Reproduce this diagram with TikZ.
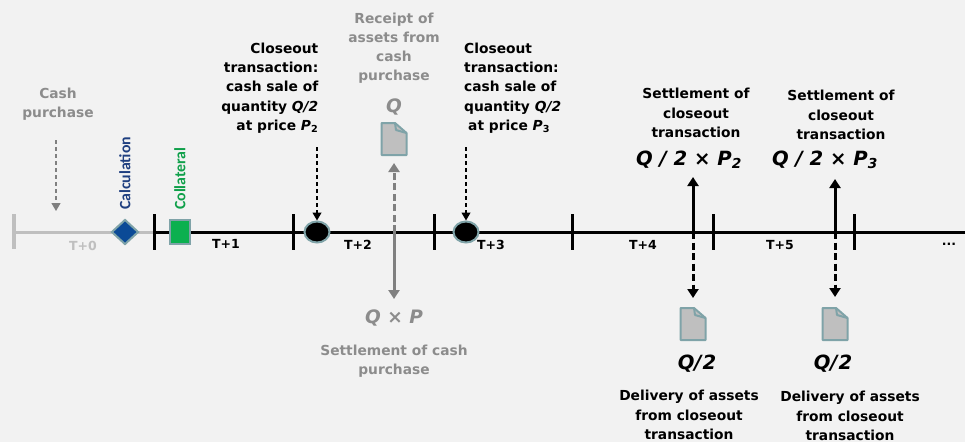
\documentclass[tikz,border=0pt]{standalone}
\usepackage{fontspec}
\setmainfont{DejaVu Sans}
\newfontfamily\carl{Carlito}
\usetikzlibrary{arrows.meta,shapes.geometric}
\definecolor{bgc}{HTML}{F2F2F2}
\definecolor{txtgray}{HTML}{8C8C8C}
\definecolor{midgray}{HTML}{808080}
\definecolor{t0gray}{HTML}{BFBFBF}
\definecolor{teal}{HTML}{7FA3A8}
\definecolor{navy}{HTML}{1F3F80}
\definecolor{dia}{HTML}{0B4A96}
\definecolor{grn}{HTML}{0FA04A}
\definecolor{grnbox}{HTML}{0BB04F}
\definecolor{docfill}{HTML}{BFBFBF}
\tikzset{
 x=1pt,y=-1pt,
 lab/.style={font=\fontsize{13.8}{19.2}\selectfont\bfseries,align=center,text=black,inner sep=0pt},
 glab/.style={lab,text=txtgray},
 tlab/.style={font=\fontsize{12.5}{14}\selectfont\bfseries,inner sep=0pt},
 qty/.style={font=\fontsize{18.5}{20}\selectfont\bfseries\itshape,inner sep=0pt},
 qtyb/.style={font=\fontsize{19.6}{20}\selectfont\bfseries\itshape,inner sep=0pt},
 rotlab/.style={rotate=90,anchor=west,inner sep=0pt,font=\fontsize{15.8}{18}\selectfont\carl\bfseries},
 tickm/.style={line width=3pt},
 tl/.style={line width=3pt},
 dot/.style={ellipse,draw=teal,line width=2pt,fill=black,minimum width=25pt,minimum height=21pt,inner sep=0pt},
 thindash/.style={line width=1.1pt,dash pattern=on 4pt off 3pt,-{Triangle[length=8pt,width=9pt]}},
 thickarr/.style={line width=3pt,-{Triangle[length=9pt,width=11pt]}},
 thickdash/.style={thickarr,dash pattern=on 7pt off 3.5pt},
}
\newcommand{\docicon}[2]{%
 \filldraw[draw=teal,fill=docfill,line width=2pt,line join=round]
  (#1-12.5,#2-16) -- (#1+1,#2-16) -- (#1+12.5,#2-6) -- (#1+12.5,#2+16) -- (#1-12.5,#2+16) -- cycle;
 \draw[teal,line width=2pt,line join=round] (#1+1,#2-16) -- (#1+2,#2-9) -- (#1+12.5,#2-6);
}
\begin{document}
\begin{tikzpicture}
\fill[bgc] (0,0) rectangle (965,442);
\useasboundingbox (0,0) rectangle (965,442);
\coordinate (s) at (14,232);
\coordinate (k1) at (154,232);
\coordinate (e) at (965,232);
\coordinate (a1) at (394,232);
\coordinate (a2) at (693,232);
\coordinate (a3) at (835,232);
\draw[t0gray,line width=3pt] (s) -- (k1);
\draw[tl] (k1) -- (e);
\draw[t0gray,line width=3.5pt] (14,214) -- (14,249);
\foreach \k in {154,293,434,572,713,854} \draw[tickm] (\k,214) -- (\k,250);
\node[diamond,draw=teal,line width=2pt,fill=dia,minimum width=27pt,minimum height=25pt,inner sep=0pt] (calc) at (125,232) {};
\node[rectangle,draw=teal,line width=2pt,fill=grnbox,minimum width=20pt,minimum height=24pt,inner sep=0pt] (coll) at (180,232) {};
\node[dot] (d1) at (317,232) {};
\node[dot] (d2) at (466,232) {};
\node[rotlab,text=navy] (calct) at (125,210) {Calculation};
\node[rotlab,text=grn] (collt) at (180,210) {Collateral};
\node[tlab,text=t0gray] (t0) at (83,246) {T+0};
\node[tlab] (t1) at (226,244) {T+1};
\node[tlab] (t2) at (358,245) {T+2};
\node[tlab] (t3) at (491,245) {T+3};
\node[tlab] (t4) at (643,245) {T+4};
\node[tlab] (t5) at (780,245) {T+5};
\node[tlab] (t6) at (949,244) {...};
\node[glab] (cash) at (58,104) {Cash\\purchase};
\coordinate (cashend) at (56,211);
\coordinate (cashstart) at (56,140);
\draw[thindash,midgray] (cashstart) -- (cashend);
\node[lab,align=right,anchor=east] (c1) at (318.5,88) {Closeout\\transaction:\\cash sale of\\quantity \textit{Q/2}\\at price \textit{P}\textsubscript{2}};
\node[lab,align=left,anchor=west] (c2) at (464,88) {Closeout\\transaction:\\cash sale of\\quantity \textit{Q/2}\\\hspace*{4pt}at price \textit{P}\textsubscript{3}};
\coordinate (c1s) at (317,147);
\coordinate (c2s) at (466,147);
\draw[thindash] (c1s) -- (d1.north);
\draw[thindash] (c2s) -- (d2.north);
\node[glab] (rec) at (394,48) {Receipt of\\assets from\\cash\\purchase};
\node[qty,text=txtgray] (q) at (394,107) {Q};
\docicon{394}{139}
\node[qty,text=txtgray] (qp) at (394,318) {Q × P};
\node[glab] (setc) at (394,361) {Settlement of cash\\purchase};
\coordinate (a1t) at (394,163);
\coordinate (a1b) at (394,299);
\draw[thickdash,midgray] (a1) -- (a1t);
\draw[thickarr,midgray] (a1) -- (a1b);
\node[lab] (s2) at (696,113) {Settlement of\\closeout\\transaction};
\node[lab] (s3) at (841,115) {Settlement of\\closeout\\transaction};
\node[qtyb] (v2) at (689,160) {Q / 2 × P\textsubscript{2}};
\node[qtyb] (v3) at (825,160) {Q / 2 × P\textsubscript{3}};
\coordinate (a2t) at (693,177);
\coordinate (a2b) at (693,298);
\coordinate (a3t) at (835,179);
\coordinate (a3b) at (835,297);
\draw[thickarr] (a2) -- (a2t);
\draw[thickarr] (a3) -- (a3t);
\draw[thickdash] (a2) -- (a2b);
\draw[thickdash] (a3) -- (a3b);
\docicon{693}{324}
\docicon{835}{324}
\node[qtyb] (q2) at (697,364) {Q/\kern1pt 2};
\node[qtyb] (q3) at (833,364) {Q/\kern1pt 2};
\node[lab] (d2t) at (689,415) {Delivery of assets\\from closeout\\transaction};
\node[lab] (d3t) at (850,416) {Delivery of assets\\from closeout\\transaction};
\end{tikzpicture}
\end{document}
